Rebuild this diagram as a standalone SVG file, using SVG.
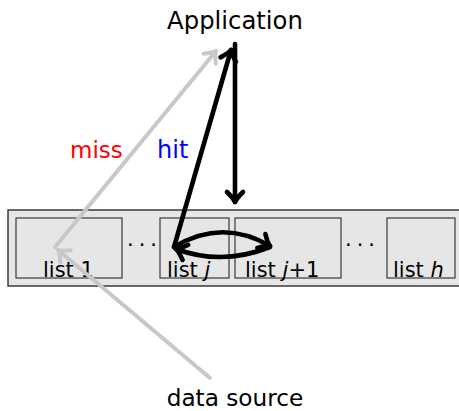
<svg xmlns="http://www.w3.org/2000/svg" width="459" height="411" viewBox="0 0 459 411">
  <style>
    .lbl { font-family: "DejaVu Sans", "Liberation Sans", sans-serif; font-size: 21px; fill: #000; }
    .big { font-size: 24.3px; }
    .src { font-size: 23.2px; }
    .box { fill: #e6e6e6; stroke: #3a3a3a; stroke-width: 1.2; }
    .blk { fill: none; stroke: #000; stroke-width: 4.6; stroke-linecap: round; }
    .gry { fill: none; stroke: #c8c8c8; stroke-width: 4; stroke-linecap: round; }
  </style>
  <defs>
    <marker id="headK" markerUnits="userSpaceOnUse" markerWidth="24" markerHeight="24" viewBox="-14 -12 16 24" refX="0" refY="0" orient="auto" overflow="visible">
      <path d="M-10,-8 Q-3,-1 0,0 Q-3,1 -10,8" fill="none" stroke="#000" stroke-width="4.6" stroke-linecap="round" stroke-linejoin="round"/>
    </marker>
    <marker id="headG" markerUnits="userSpaceOnUse" markerWidth="24" markerHeight="24" viewBox="-14 -12 16 24" refX="0" refY="0" orient="auto" overflow="visible">
      <path d="M-10,-8 Q-3,-1 0,0 Q-3,1 -10,8" fill="none" stroke="#c8c8c8" stroke-width="4" stroke-linecap="round" stroke-linejoin="round"/>
    </marker>
  </defs>

  <rect width="459" height="411" fill="#fff"/>

  <!-- container strip holding the lists -->
  <g id="cache">
    <rect x="8" y="210" width="455" height="76" fill="#e6e6e6" stroke="#3a3a3a" stroke-width="1.5"/>
  </g>

  <g id="list1">
    <rect class="box" x="16" y="218" width="106" height="60"/>
    <text class="lbl" x="43" y="277">list 1</text>
  </g>
  <text class="lbl" x="127" y="252" letter-spacing="5">···</text>
  <g id="listj">
    <rect class="box" x="160" y="218" width="69" height="60"/>
    <text class="lbl" x="167" y="277">list <tspan font-style="italic">j</tspan></text>
  </g>
  <g id="listj1">
    <rect class="box" x="235" y="218" width="106" height="60"/>
    <text class="lbl" x="245" y="277">list <tspan font-style="italic">j</tspan>+1</text>
  </g>
  <text class="lbl" x="345" y="252" letter-spacing="5">···</text>
  <g id="listh">
    <rect class="box" x="387" y="218" width="68" height="60"/>
    <text class="lbl" x="393" y="277">list <tspan font-style="italic">h</tspan></text>
  </g>

  <g id="application">
    <text class="lbl big" x="235" y="29" text-anchor="middle">Application</text>
  </g>
  <g id="datasource">
    <text class="lbl src" x="235" y="406" text-anchor="middle">data source</text>
  </g>

  <g id="connectors">
    <!-- miss path: source -> list 1 -> application -->
    <line class="gry" x1="210" y1="378" x2="58" y2="250" marker-end="url(#headG)"/>
    <line class="gry" x1="55" y1="247" x2="216" y2="51" marker-end="url(#headG)"/>
    <!-- request from application -->
    <line class="blk" x1="235" y1="44" x2="235" y2="202" marker-end="url(#headK)"/>
    <!-- hit path back to application -->
    <line class="blk" x1="174" y1="247" x2="231" y2="50" marker-end="url(#headK)"/>
    <!-- swap between list j and list j+1 -->
    <path class="blk" d="M174,247 Q222,218 270,246" marker-end="url(#headK)"/>
    <path class="blk" d="M270,247 Q222,266 176,249" marker-end="url(#headK)"/>
  </g>

  <text x="70" y="158" font-family="DejaVu Sans, Liberation Sans, sans-serif" font-size="23" fill="#ff0000">miss</text>
  <text x="157" y="158" font-family="DejaVu Sans, Liberation Sans, sans-serif" font-size="24" fill="#0000ff">hit</text>
</svg>
